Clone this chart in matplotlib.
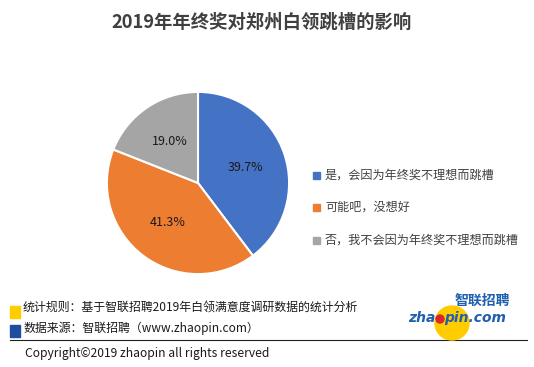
import matplotlib.pyplot as plt
from matplotlib.patches import Rectangle, Circle

plt.rcParams['font.family'] = ['Noto Sans CJK SC', 'DejaVu Sans']

title = "2019年年终奖对郑州白领跳槽的影响"
categories = ["是，会因为年终奖不理想而跳槽", "可能吧，没想好", "否，我不会因为年终奖不理想而跳槽"]
shares = [39.7, 41.3, 19.0]
colors = ["#4472C4", "#ED7D31", "#A5A5A5"]
note_rule = "统计规则：基于智联招聘2019年白领满意度调研数据的统计分析"
note_src = "数据来源：智联招聘（www.zhaopin.com）"
copyright_txt = "Copyright©2019 zhaopin all rights reserved"

W, H = 534, 367
fig = plt.figure(figsize=(W / 100, H / 100), dpi=100)

# overlay axes in pixel coordinates (y down)
bg = fig.add_axes([0, 0, 1, 1])
bg.set_xlim(0, W)
bg.set_ylim(H, 0)
bg.axis("off")

bg.text(262, 22, title, ha="center", va="center", fontsize=13.2,
        fontweight="bold", color="#404040")

# pie
cx, cy, r = 198, 183, 92
pax = fig.add_axes([(cx - r) / W, (H - cy - r) / H, 2 * r / W, 2 * r / H])
wedges, _, autotexts = pax.pie(
    shares, colors=colors, startangle=90, counterclock=False,
    autopct="%.1f%%", pctdistance=0.55,
    wedgeprops=dict(edgecolor="white", linewidth=1.5),
    textprops=dict(fontsize=9, color="#1a1a1a"))
pax.set_xlim(-1.01, 1.01)
pax.set_ylim(-1.01, 1.01)

# legend
for i, (lab, c) in enumerate(zip(categories, colors)):
    y = 175 + i * 32.5
    bg.add_patch(Rectangle((313, y - 3.5), 7, 7, color=c))
    bg.text(325, y, lab, ha="left", va="center", fontsize=8.7, color="#404040")

# footer notes
bg.add_patch(Rectangle((10, 306), 10, 12, color="#FFCC00"))
bg.text(23, 308, note_rule, ha="left", va="center", fontsize=8.6, color="#1a1a1a")
bg.add_patch(Rectangle((10, 325), 10, 12, color="#1F4E9E"))
bg.text(23, 328, note_src, ha="left", va="center", fontsize=8.6, color="#1a1a1a")
bg.plot([10, 527], [340, 340], color="#222222", linewidth=0.8)
bg.text(25, 353, copyright_txt, ha="left", va="center", fontsize=8.7, color="#1a1a1a")

# logo
logo_blue = "#1F5FAF"
bg.add_patch(Circle((452, 323), 17, color="#FFCC00", zorder=2))
bg.text(482, 301, "智联招聘", ha="center", va="center", fontsize=10,
        fontweight="bold", style="italic", color=logo_blue, zorder=3)
bg.text(435.5, 318, "zha", ha="right", va="center", fontsize=10,
        fontweight="bold", style="italic", color=logo_blue, family="DejaVu Sans",
        zorder=3)
bg.add_patch(Circle((440, 319), 4, color="#D9262B", zorder=3))
bg.text(444.5, 318, "pin.com", ha="left", va="center", fontsize=10,
        fontweight="bold", style="italic", color=logo_blue, family="DejaVu Sans",
        zorder=3)

fig.savefig("out.png", dpi=100)
